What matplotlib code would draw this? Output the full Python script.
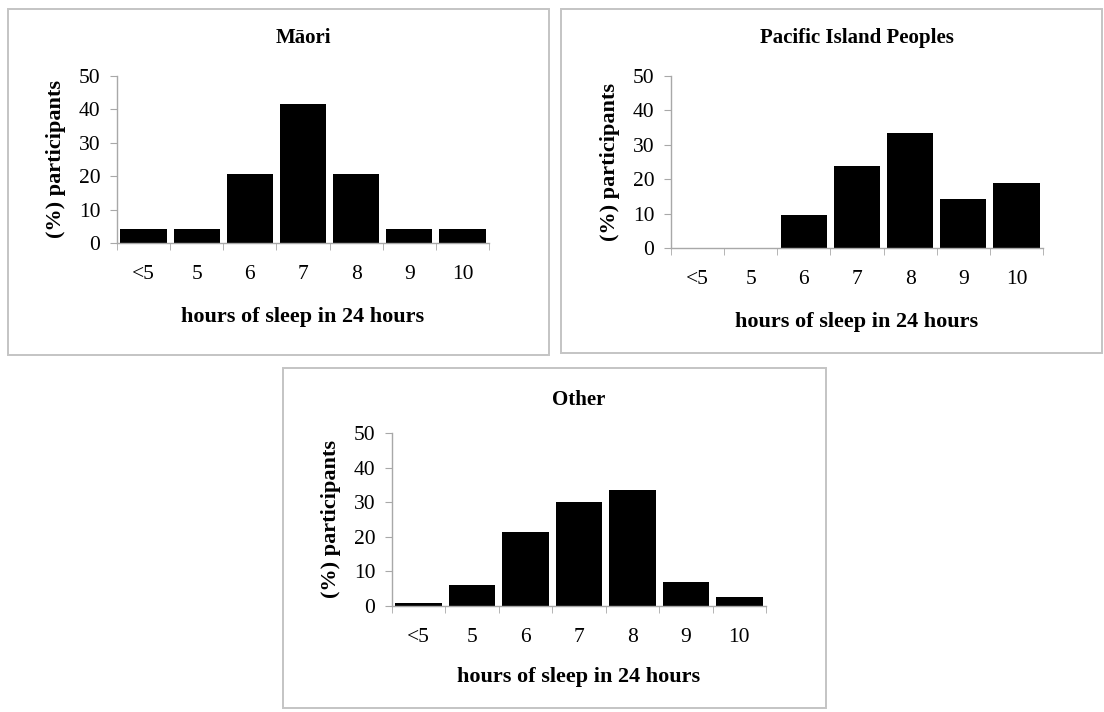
import matplotlib.pyplot as plt
from matplotlib.patches import Rectangle
import numpy as np

# hours of sleep categories
categories = ["<5", "5", "6", "7", "8", "9", "10"]

# percentage of participants in each group
maori = [4.2, 4.2, 20.8, 41.7, 20.8, 4.2, 4.2]
pacific = [0, 0, 9.5, 23.8, 33.3, 14.3, 19.0]
other = [0.9, 6.0, 21.5, 30.0, 33.4, 7.0, 2.6]

titles = ["Māori", "Pacific Island Peoples", "Other"]
y_ticks = [0, 10, 20, 30, 40, 50]

plt.rcParams["font.family"] = ["Liberation Serif", "DejaVu Serif"]

W, H = 1104, 712
fig = plt.figure(figsize=(W / 100, H / 100), dpi=100)


def px_box(x0, y0, x1, y1):
    # pixel box (top-left origin) -> figure fraction rect
    return [x0 / W, 1 - y1 / H, (x1 - x0) / W, (y1 - y0) / H]


# outer frames around each chart
frames = [(8, 9, 549, 355), (561, 9, 1102, 353), (283, 368, 826, 708)]
for x0, y0, x1, y1 in frames:
    l, b, w, h = px_box(x0, y0, x1, y1)
    fig.patches.append(Rectangle((l, b), w, h, transform=fig.transFigure,
                                 fill=False, edgecolor="#c4c4c4", linewidth=1.4))

# plot areas (pixels)
plot_areas = [(117, 76, 489, 243), (671, 76, 1043, 248), (392, 433, 766, 606)]
title_y = [38, 38, 400]
xlabel_y = [317, 322, 677]

for data, title, area, ty, ly in zip([maori, pacific, other], titles,
                                     plot_areas, title_y, xlabel_y):
    ax = fig.add_axes(px_box(*area))
    x = np.arange(len(categories))
    ax.bar(x, data, width=0.87, color="black", edgecolor="none")
    ax.set_xlim(-0.5, len(categories) - 0.5)
    ax.set_ylim(0, 50)

    ax.set_yticks(y_ticks)
    ax.set_yticklabels([str(t) for t in y_ticks], fontsize=15.5)
    ax.set_xticks(x)
    ax.set_xticklabels(categories, fontsize=15.5)
    ax.tick_params(axis="x", length=0, pad=16)
    ax.tick_params(axis="y", length=5, color="#a8a8a8", pad=7)
    # small tick marks between categories
    ax.set_xticks(np.arange(-0.5, len(categories)), minor=True)
    ax.tick_params(axis="x", which="minor", length=5, color="#a8a8a8")

    for side in ["top", "right"]:
        ax.spines[side].set_visible(False)
    for side in ["left", "bottom"]:
        ax.spines[side].set_color("#a8a8a8")
        ax.spines[side].set_linewidth(1.0)

    ax.set_ylabel("(%) participants", fontsize=16, fontweight="bold", labelpad=9)

    cx = (area[0] + area[2]) / 2 / W
    fig.text(cx, 1 - ty / H, title, ha="center", va="center",
             fontsize=15, fontweight="bold")
    fig.text(cx, 1 - ly / H, "hours of sleep in 24 hours", ha="center",
             va="center", fontsize=16, fontweight="bold")

fig.savefig("out.png", dpi=100, facecolor="white")
